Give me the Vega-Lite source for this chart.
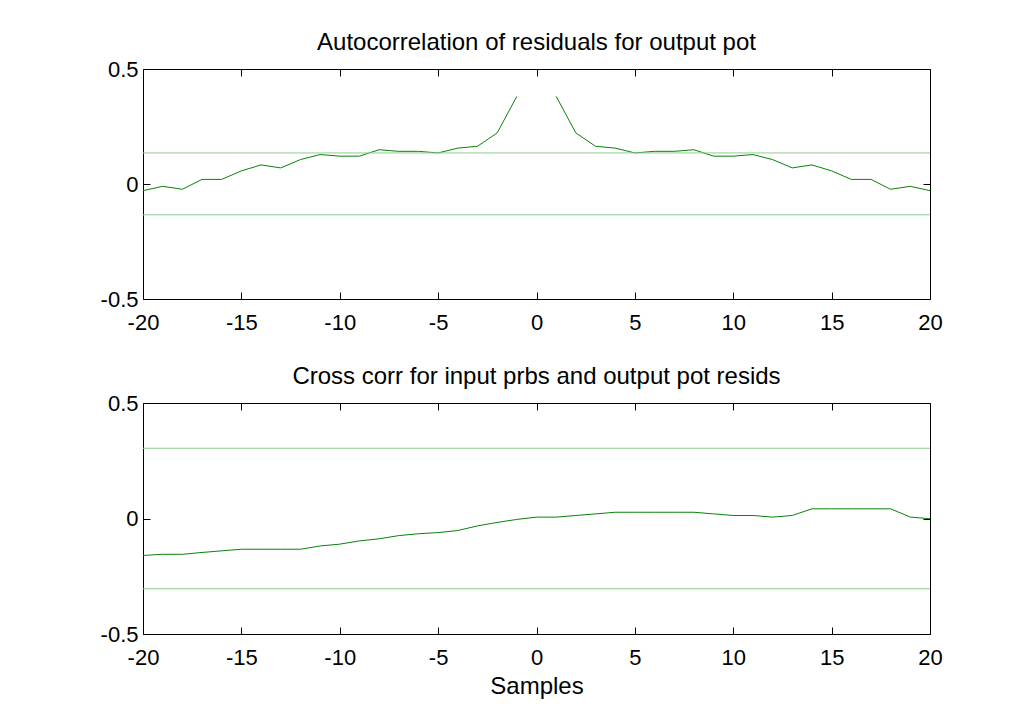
{
  "$schema": "https://vega.github.io/schema/vega-lite/v6.json",
  "background": "white",
  "padding": {"left": 99, "top": 30, "right": 10, "bottom": 10},
  "spacing": 104,
  "bounds": "flush",
  "datasets": {
    "auto": [
      {"lag": -20, "r": -0.029}, {"lag": -19, "r": -0.010}, {"lag": -18, "r": -0.023}, {"lag": -17, "r": 0.020},
      {"lag": -16, "r": 0.020}, {"lag": -15, "r": 0.057}, {"lag": -14, "r": 0.083}, {"lag": -13, "r": 0.070},
      {"lag": -12, "r": 0.106}, {"lag": -11, "r": 0.128}, {"lag": -10, "r": 0.121}, {"lag": -9, "r": 0.121},
      {"lag": -8, "r": 0.149}, {"lag": -7, "r": 0.142}, {"lag": -6, "r": 0.142}, {"lag": -5, "r": 0.135},
      {"lag": -4, "r": 0.156}, {"lag": -3, "r": 0.164}, {"lag": -2, "r": 0.222}, {"lag": -1, "r": 0.381},
      {"lag": 0, "r": null},
      {"lag": 1, "r": 0.381}, {"lag": 2, "r": 0.222}, {"lag": 3, "r": 0.164}, {"lag": 4, "r": 0.156},
      {"lag": 5, "r": 0.135}, {"lag": 6, "r": 0.142}, {"lag": 7, "r": 0.142}, {"lag": 8, "r": 0.149},
      {"lag": 9, "r": 0.121}, {"lag": 10, "r": 0.121}, {"lag": 11, "r": 0.128}, {"lag": 12, "r": 0.106},
      {"lag": 13, "r": 0.070}, {"lag": 14, "r": 0.083}, {"lag": 15, "r": 0.057}, {"lag": 16, "r": 0.020},
      {"lag": 17, "r": 0.020}, {"lag": 18, "r": -0.023}, {"lag": 19, "r": -0.010}, {"lag": 20, "r": -0.029}
    ],
    "autoConf": [
      {"lo": -20, "hi": 20, "c": 0.135}, {"lo": -20, "hi": 20, "c": -0.134}
    ],
    "cross": [
      {"lag": -20, "r": -0.160}, {"lag": -19, "r": -0.155}, {"lag": -18, "r": -0.155}, {"lag": -17, "r": -0.147},
      {"lag": -16, "r": -0.140}, {"lag": -15, "r": -0.133}, {"lag": -14, "r": -0.133}, {"lag": -13, "r": -0.133},
      {"lag": -12, "r": -0.133}, {"lag": -11, "r": -0.119}, {"lag": -10, "r": -0.111}, {"lag": -9, "r": -0.097},
      {"lag": -8, "r": -0.088}, {"lag": -7, "r": -0.074}, {"lag": -6, "r": -0.066}, {"lag": -5, "r": -0.061},
      {"lag": -4, "r": -0.052}, {"lag": -3, "r": -0.032}, {"lag": -2, "r": -0.017}, {"lag": -1, "r": -0.004},
      {"lag": 0, "r": 0.006}, {"lag": 1, "r": 0.006}, {"lag": 2, "r": 0.013}, {"lag": 3, "r": 0.020},
      {"lag": 4, "r": 0.027}, {"lag": 5, "r": 0.027}, {"lag": 6, "r": 0.027}, {"lag": 7, "r": 0.027},
      {"lag": 8, "r": 0.027}, {"lag": 9, "r": 0.020}, {"lag": 10, "r": 0.013}, {"lag": 11, "r": 0.013},
      {"lag": 12, "r": 0.006}, {"lag": 13, "r": 0.013}, {"lag": 14, "r": 0.042}, {"lag": 15, "r": 0.042},
      {"lag": 16, "r": 0.042}, {"lag": 17, "r": 0.042}, {"lag": 18, "r": 0.042}, {"lag": 19, "r": 0.006},
      {"lag": 20, "r": -0.001}
    ],
    "crossConf": [
      {"lo": -20, "hi": 20, "c": 0.304}, {"lo": -20, "hi": 20, "c": -0.304}
    ]
  },
  "vconcat": [
    {
      "width": 787,
      "height": 230,
      "title": {"text": "Autocorrelation of residuals for output pot"},
      "layer": [
        {
          "data": {"name": "auto"},
          "mark": {"type": "line", "color": "#0a820a", "strokeWidth": 1, "invalid": "break-paths-show-domains"},
          "encoding": {
            "x": {"field": "lag", "type": "quantitative", "scale": {"domain": [-20, 20], "nice": false, "zero": false},
                  "axis": {"orient": "bottom", "values": [-20, -15, -10, -5, 0, 5, 10, 15, 20], "title": null}},
            "y": {"field": "r", "type": "quantitative", "scale": {"domain": [-0.5, 0.5], "nice": false},
                  "axis": {"orient": "left", "values": [-0.5, 0, 0.5], "title": null}}
          }
        },
        {
          "data": {"name": "autoConf"},
          "mark": {"type": "rule", "color": "#8fcc8f", "strokeWidth": 1},
          "encoding": {
            "x": {"field": "lo", "type": "quantitative", "scale": {"domain": [-20, 20], "nice": false, "zero": false},
                  "axis": {"orient": "top", "values": [-20, -15, -10, -5, 0, 5, 10, 15, 20], "labels": false, "title": null}},
            "x2": {"field": "hi"},
            "y": {"field": "c", "type": "quantitative", "scale": {"domain": [-0.5, 0.5], "nice": false},
                  "axis": {"orient": "right", "values": [-0.5, 0, 0.5], "labels": false, "title": null}}
          }
        }
      ],
      "resolve": {"scale": {"x": "independent", "y": "independent"}, "axis": {"x": "independent", "y": "independent"}}
    },
    {
      "width": 787,
      "height": 231,
      "title": {"text": "Cross corr for input prbs and output pot resids"},
      "layer": [
        {
          "data": {"name": "cross"},
          "mark": {"type": "line", "color": "#0a820a", "strokeWidth": 1},
          "encoding": {
            "x": {"field": "lag", "type": "quantitative", "scale": {"domain": [-20, 20], "nice": false, "zero": false},
                  "axis": {"orient": "bottom", "values": [-20, -15, -10, -5, 0, 5, 10, 15, 20], "title": "Samples"}},
            "y": {"field": "r", "type": "quantitative", "scale": {"domain": [-0.5, 0.5], "nice": false},
                  "axis": {"orient": "left", "values": [-0.5, 0, 0.5], "title": null}}
          }
        },
        {
          "data": {"name": "crossConf"},
          "mark": {"type": "rule", "color": "#8fcc8f", "strokeWidth": 1},
          "encoding": {
            "x": {"field": "lo", "type": "quantitative", "scale": {"domain": [-20, 20], "nice": false, "zero": false},
                  "axis": {"orient": "top", "values": [-20, -15, -10, -5, 0, 5, 10, 15, 20], "labels": false, "title": null}},
            "x2": {"field": "hi"},
            "y": {"field": "c", "type": "quantitative", "scale": {"domain": [-0.5, 0.5], "nice": false},
                  "axis": {"orient": "right", "values": [-0.5, 0, 0.5], "labels": false, "title": null}}
          }
        }
      ],
      "resolve": {"scale": {"x": "independent", "y": "independent"}, "axis": {"x": "independent", "y": "independent"}}
    }
  ],
  "config": {
    "font": "Liberation Sans",
    "view": {"stroke": "black", "strokeWidth": 1},
    "axis": {
      "grid": false,
      "domain": false,
      "tickColor": "black",
      "tickSize": -7,
      "tickWidth": 1,
      "labelFont": "Liberation Sans",
      "labelFontSize": 22,
      "labelColor": "black",
      "labelExpr": "toString(datum.value)",
      "labelOverlap": false,
      "labelFlush": false,
      "titleFont": "Liberation Sans",
      "titleFontSize": 24,
      "titleFontWeight": "normal",
      "titleColor": "black",
      "titlePadding": 6
    },
    "axisX": {"labelPadding": 20},
    "axisY": {"labelPadding": 12},
    "title": {
      "font": "Liberation Sans",
      "fontSize": 24,
      "fontWeight": "normal",
      "color": "black",
      "offset": 3,
      "anchor": "middle"
    }
  }
}
